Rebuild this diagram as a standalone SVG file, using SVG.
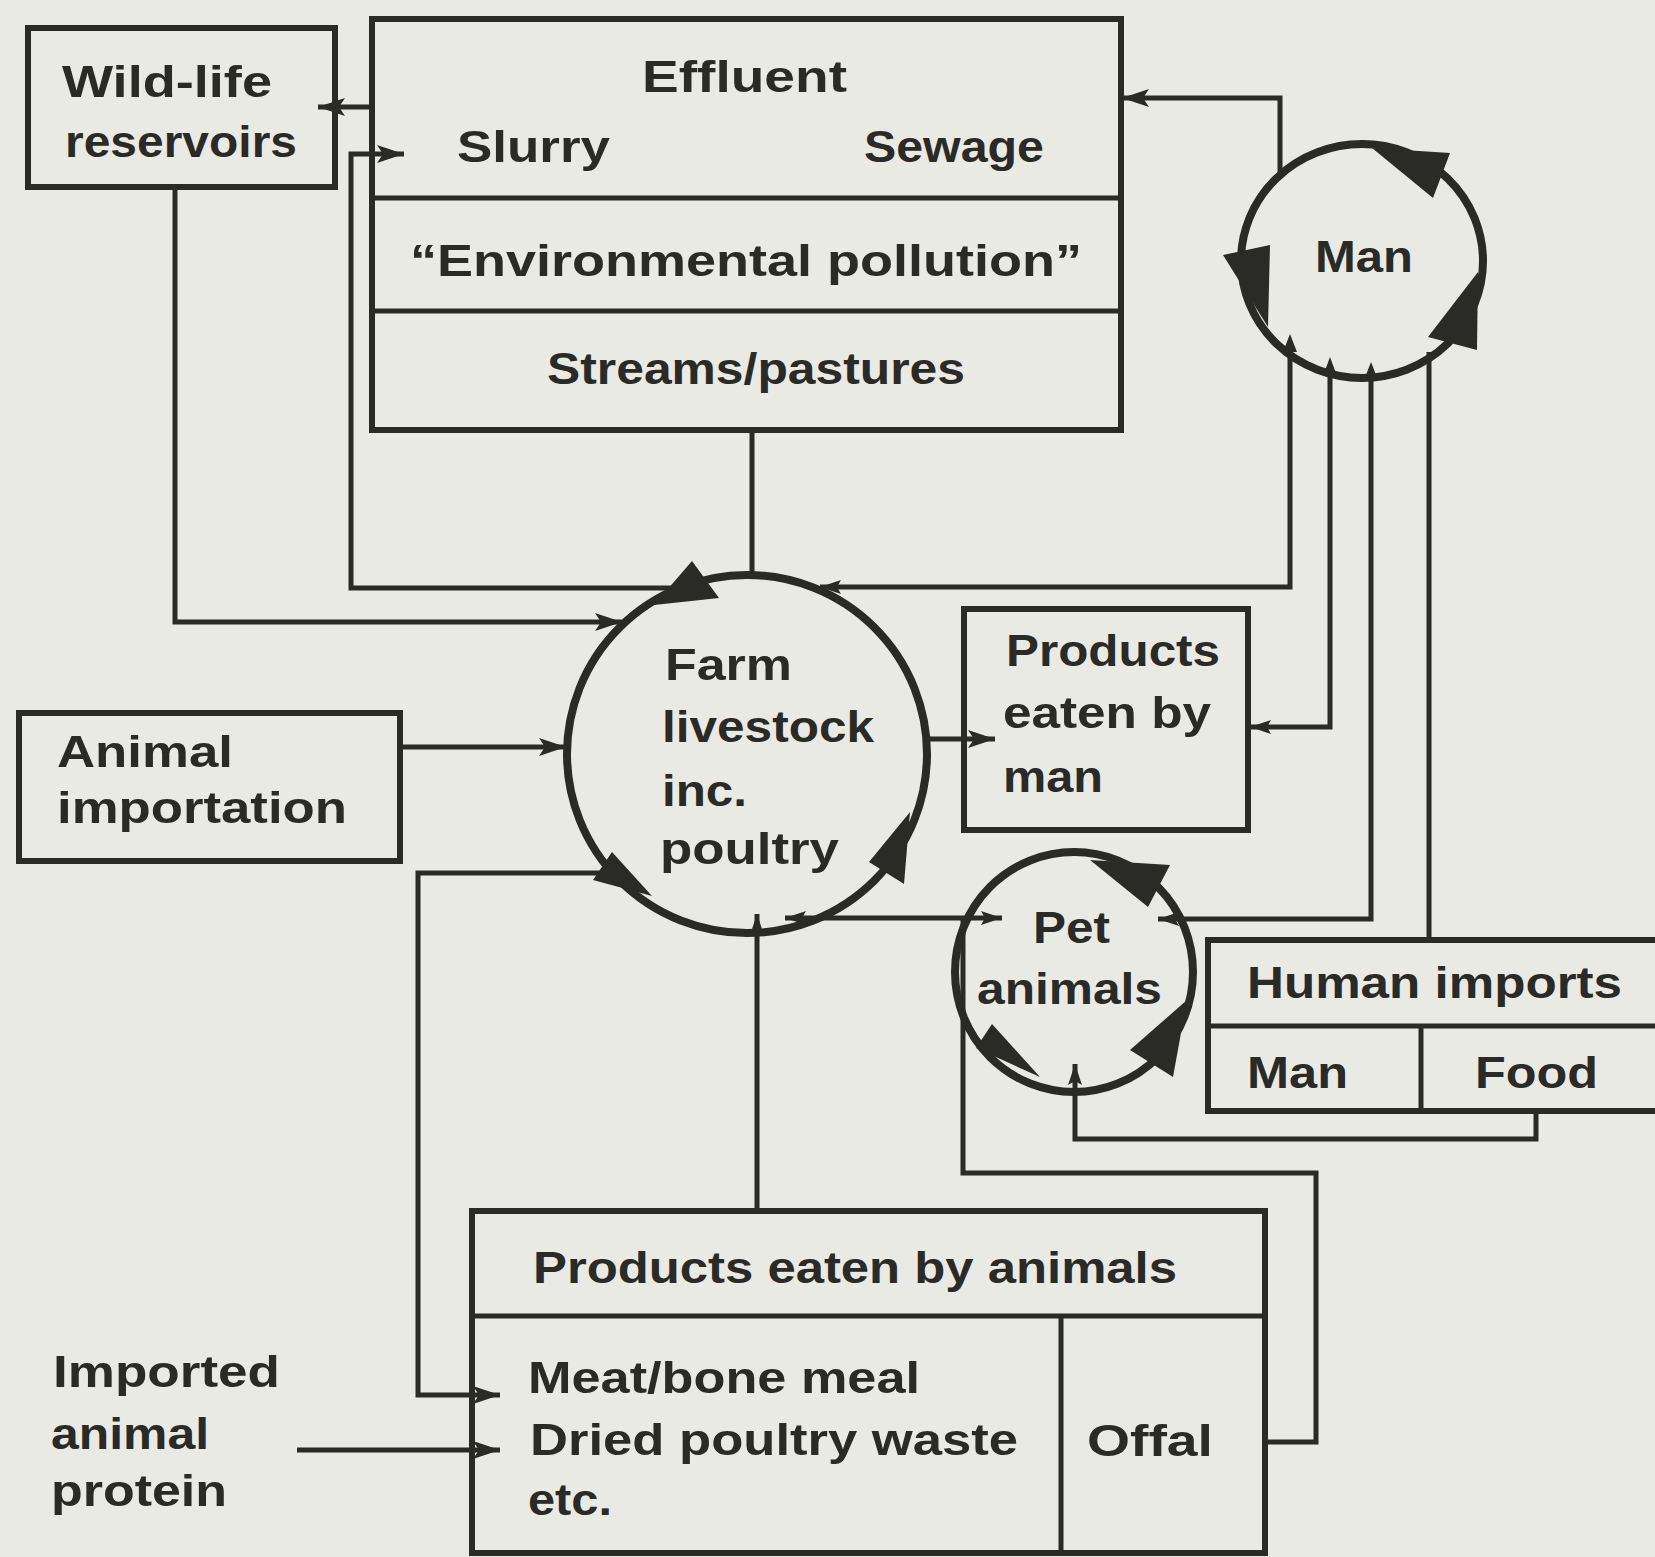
<svg xmlns="http://www.w3.org/2000/svg" width="1655" height="1557" viewBox="0 0 1655 1557">
<style>
.bg{fill:#eaeae5}
.box{fill:none;stroke:#2a2a27;stroke-width:6}
.div{stroke:#2a2a27;stroke-width:5;fill:none}
.circ{fill:none;stroke:#2a2a27;stroke-width:8}
.ln{fill:none;stroke:#2a2a27;stroke-width:5;stroke-linejoin:miter}
.ah{fill:#2a2a27}
text{font-family:"Liberation Sans",Arial,sans-serif;font-weight:bold;font-size:45px;fill:#2a2a27}
</style>
<defs>
<marker id="ah" markerUnits="userSpaceOnUse" markerWidth="28" markerHeight="20" refX="27" refY="10" orient="auto-start-reverse"><path d="M0,1 L27,10 L0,19 L6,10 z" fill="#2a2a27"/></marker>
<marker id="ahs" markerUnits="userSpaceOnUse" markerWidth="22" markerHeight="16" refX="21" refY="8" orient="auto-start-reverse"><path d="M0,1 L21,8 L0,15 L4,8 z" fill="#2a2a27"/></marker>
</defs>
<rect class="bg" x="0" y="0" width="1655" height="1557"/>

<g id="connectors">
<path class="ln" d="M373,107 L318,107" marker-end="url(#ah)"/>
<path class="ln" d="M682,588 L351,588 L351,154 L404,154" marker-end="url(#ah)"/>
<path class="ln" d="M175,188 L175,622 L622,622" marker-end="url(#ah)"/>
<path class="ln" d="M399,747 L566,747" marker-end="url(#ah)"/>
<path class="ln" d="M752,431 L752,578"/>
<path class="ln" d="M927,739 L995,739" marker-end="url(#ah)"/>
<path class="ln" d="M1280,175 L1280,98 L1122,98" marker-end="url(#ah)"/>
<path class="ln" d="M1290,352 L1290,587 L820,587" marker-end="url(#ahs)"/>
<path class="ln" d="M1330,372 L1330,727 L1250,727" marker-end="url(#ahs)"/>
<path class="ln" d="M1371,377 L1371,919 L1158,919" marker-end="url(#ahs)"/>
<path class="ln" d="M1429,940 L1429,352"/>
<path class="ln" d="M785,918 L1002,918" marker-start="url(#ahs)" marker-end="url(#ahs)"/>
<path class="ln" d="M1265,1442 L1316,1442 L1316,1173 L963,1173 L963,918"/>
<path class="ln" d="M1536,1111 L1536,1139 L1075,1139 L1075,1064" marker-end="url(#ahs)"/>
<path class="ln" d="M757,1211 L757,914" marker-end="url(#ahs)"/>
<path class="ln" d="M600,873 L418,873 L418,1395 L500,1395" marker-end="url(#ah)"/>
<path class="ln" d="M297,1450 L500,1450" marker-end="url(#ah)"/>
</g>

<g id="wildlife">
<rect class="box" x="28" y="28" width="307" height="159"/>
<text x="62" y="97" textLength="210" lengthAdjust="spacingAndGlyphs">Wild-life</text>
<text x="65" y="157" textLength="232" lengthAdjust="spacingAndGlyphs">reservoirs</text>
</g>

<g id="effluent">
<rect class="box" x="372" y="19" width="749" height="411"/>
<line class="div" x1="372" y1="198" x2="1121" y2="198"/>
<line class="div" x1="372" y1="311" x2="1121" y2="311"/>
<text x="642" y="92" textLength="205" lengthAdjust="spacingAndGlyphs">Effluent</text>
<text x="457" y="162" textLength="153" lengthAdjust="spacingAndGlyphs">Slurry</text>
<text x="864" y="162" textLength="180" lengthAdjust="spacingAndGlyphs">Sewage</text>
<text x="410" y="276" textLength="672" lengthAdjust="spacingAndGlyphs">“Environmental pollution”</text>
<text x="547" y="384" textLength="418" lengthAdjust="spacingAndGlyphs">Streams/pastures</text>
</g>

<g id="man">
<ellipse class="circ" cx="1362" cy="261" rx="121" ry="117"/>
<polygon class="ah" points="1372,148 1450,153 1433,198"/>
<polygon class="ah" points="1223,255 1270,245 1268,327"/>
<polygon class="ah" points="1478,272 1428,337 1477,350"/>
<polygon class="ah" points="1290,334 1283,352 1297,352"/>
<polygon class="ah" points="1330,357 1323,376 1337,376"/>
<polygon class="ah" points="1371,362 1364,380 1378,380"/>
<text x="1315" y="272" textLength="98" lengthAdjust="spacingAndGlyphs">Man</text>
</g>

<g id="farm">
<ellipse class="circ" cx="747" cy="754" rx="180" ry="179"/>
<polygon class="ah" points="692,561 654,605 719,598"/>
<polygon class="ah" points="612,852 593,880 652,896"/>
<polygon class="ah" points="910,812 869,862 904,884"/>
<text x="665" y="680" textLength="127" lengthAdjust="spacingAndGlyphs">Farm</text>
<text x="662" y="742" textLength="212" lengthAdjust="spacingAndGlyphs">livestock</text>
<text x="662" y="806" textLength="85" lengthAdjust="spacingAndGlyphs">inc.</text>
<text x="660" y="864" textLength="179" lengthAdjust="spacingAndGlyphs">poultry</text>
</g>

<g id="products-man">
<rect class="box" x="964" y="609" width="284" height="221"/>
<text x="1006" y="666" textLength="214" lengthAdjust="spacingAndGlyphs">Products</text>
<text x="1003" y="728" textLength="208" lengthAdjust="spacingAndGlyphs">eaten by</text>
<text x="1003" y="792" textLength="100" lengthAdjust="spacingAndGlyphs">man</text>
</g>

<g id="animal-importation">
<rect class="box" x="19" y="713" width="381" height="148"/>
<text x="57" y="767" textLength="176" lengthAdjust="spacingAndGlyphs">Animal</text>
<text x="57" y="823" textLength="290" lengthAdjust="spacingAndGlyphs">importation</text>
</g>

<g id="pet">
<ellipse class="circ" cx="1074" cy="972" rx="119" ry="120"/>
<polygon class="ah" points="1090,860 1170,865 1148,907"/>
<polygon class="ah" points="992,1024 976,1048 1040,1077"/>
<polygon class="ah" points="1187,1000 1130,1050 1173,1077"/>
<text x="1033" y="943" textLength="77" lengthAdjust="spacingAndGlyphs">Pet</text>
<text x="977" y="1004" textLength="185" lengthAdjust="spacingAndGlyphs">animals</text>
</g>

<g id="human-imports">
<rect class="box" x="1208" y="940" width="480" height="171"/>
<line class="div" x1="1208" y1="1026" x2="1660" y2="1026"/>
<line class="div" x1="1421" y1="1026" x2="1421" y2="1111"/>
<text x="1247" y="998" textLength="375" lengthAdjust="spacingAndGlyphs">Human imports</text>
<text x="1247" y="1088" textLength="101" lengthAdjust="spacingAndGlyphs">Man</text>
<text x="1475" y="1088" textLength="123" lengthAdjust="spacingAndGlyphs">Food</text>
</g>

<g id="products-animals">
<rect class="box" x="472" y="1211" width="793" height="342"/>
<line class="div" x1="472" y1="1316" x2="1265" y2="1316"/>
<line class="div" x1="1061" y1="1316" x2="1061" y2="1553"/>
<text x="533" y="1283" textLength="644" lengthAdjust="spacingAndGlyphs">Products eaten by animals</text>
<text x="528" y="1393" textLength="392" lengthAdjust="spacingAndGlyphs">Meat/bone meal</text>
<text x="530" y="1455" textLength="488" lengthAdjust="spacingAndGlyphs">Dried poultry waste</text>
<text x="528" y="1515" textLength="84" lengthAdjust="spacingAndGlyphs">etc.</text>
<text x="1087" y="1456" textLength="126" lengthAdjust="spacingAndGlyphs">Offal</text>
</g>

<g id="imported-protein">
<text x="53" y="1387" textLength="227" lengthAdjust="spacingAndGlyphs">Imported</text>
<text x="51" y="1449" textLength="158" lengthAdjust="spacingAndGlyphs">animal</text>
<text x="51" y="1506" textLength="176" lengthAdjust="spacingAndGlyphs">protein</text>
</g>
</svg>
